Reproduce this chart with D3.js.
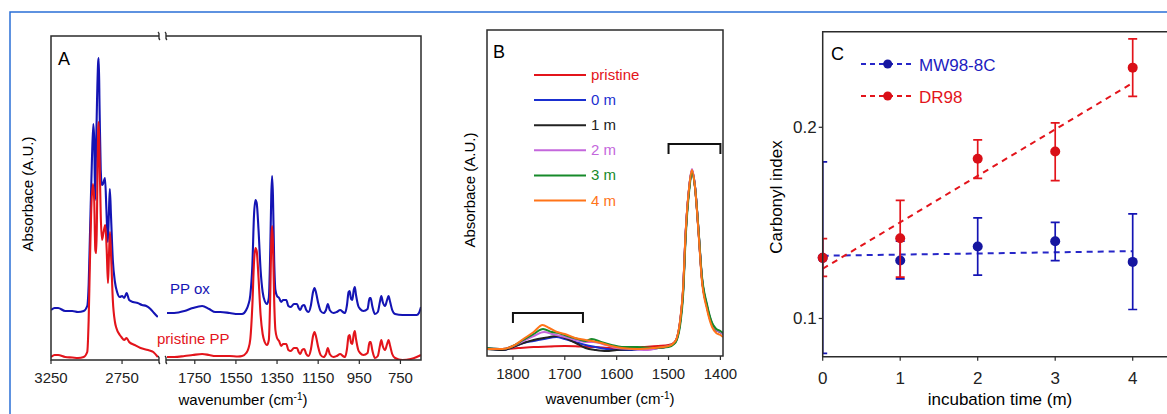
<html>
<head>
<title>PP FTIR spectra and carbonyl index</title>
<script src="https://d3js.org/d3.v7.min.js"></script>
<script>
// ---- panel A : [wavenumber, absorbance] ----
var ppOxHigh = [[3250,0.25],[3225,0.26],[3200,0.26],[3150,0.245],[3100,0.245],[3060,0.24],[3020,0.245],[2995,0.27],[2985,0.375],[2975,0.65],[2962,1.0],[2952,1.18],[2946,1.1],[2939,0.8],[2933,1.05],[2926,1.3],[2918,1.49],[2914,1.51],[2908,1.25],[2900,0.95],[2892,0.875],[2884,0.88],[2870,0.91],[2860,0.75],[2850,0.59],[2843,0.725],[2836,0.855],[2828,0.725],[2815,0.5],[2800,0.39],[2785,0.34],[2766,0.315],[2750,0.32],[2735,0.31],[2718,0.335],[2700,0.3],[2673,0.29],[2640,0.285],[2610,0.275],[2579,0.27],[2550,0.255],[2525,0.235],[2498,0.215]];
var pristineHigh = [[3250,0.015],[3225,0.025],[3200,0.025],[3150,0.015],[3100,0.0125],[3060,0.01],[3020,0.015],[2995,0.04],[2985,0.2],[2977,0.46],[2968,0.725],[2955,0.88],[2946,0.8],[2938,0.55],[2931,0.535],[2925,0.8],[2918,1.15],[2914,1.19],[2908,1.0],[2900,0.725],[2891,0.6],[2880,0.64],[2868,0.675],[2858,0.55],[2849,0.385],[2842,0.525],[2835,0.64],[2826,0.5],[2815,0.3],[2800,0.19],[2790,0.16],[2766,0.125],[2755,0.115],[2735,0.1],[2718,0.11],[2700,0.09],[2661,0.075],[2620,0.06],[2567,0.05],[2530,0.04],[2498,0.015]];
var ppOxLow = [[1888,0.235],[1850,0.235],[1800,0.245],[1760,0.26],[1714,0.27],[1680,0.255],[1650,0.24],[1626,0.24],[1580,0.235],[1540,0.23],[1520,0.23],[1500,0.25],[1490,0.275],[1480,0.325],[1470,0.475],[1462,0.725],[1455,0.8],[1449,0.785],[1440,0.65],[1430,0.45],[1420,0.34],[1410,0.295],[1399,0.28],[1390,0.31],[1383,0.55],[1378,0.825],[1374,0.92],[1370,0.825],[1364,0.5],[1358,0.35],[1350,0.32],[1340,0.31],[1330,0.29],[1320,0.3],[1305,0.3],[1295,0.27],[1283,0.265],[1268,0.28],[1253,0.28],[1245,0.26],[1237,0.25],[1228,0.27],[1218,0.275],[1208,0.25],[1197,0.24],[1185,0.275],[1175,0.34],[1168,0.36],[1160,0.335],[1150,0.285],[1138,0.245],[1124,0.235],[1112,0.25],[1103,0.28],[1094,0.25],[1076,0.235],[1060,0.24],[1043,0.25],[1030,0.24],[1019,0.235],[1010,0.275],[1002,0.34],[997,0.345],[990,0.305],[984,0.3],[977,0.35],[972,0.365],[966,0.325],[955,0.27],[946,0.255],[930,0.245],[910,0.255],[900,0.31],[895,0.31],[887,0.27],[874,0.23],[860,0.24],[850,0.29],[843,0.32],[836,0.29],[825,0.27],[815,0.3],[808,0.32],[800,0.29],[790,0.25],[776,0.23],[740,0.225],[700,0.225],[671,0.225],[660,0.235],[650,0.265]];
var pristineLow = [[1888,0.015],[1850,0.015],[1800,0.02],[1760,0.025],[1714,0.03],[1680,0.025],[1650,0.02],[1626,0.02],[1580,0.02],[1540,0.0175],[1520,0.02],[1500,0.035],[1490,0.055],[1480,0.105],[1470,0.275],[1462,0.49],[1455,0.56],[1449,0.545],[1440,0.41],[1430,0.225],[1420,0.13],[1410,0.09],[1399,0.075],[1390,0.1],[1383,0.325],[1378,0.6],[1374,0.67],[1370,0.59],[1364,0.3],[1358,0.15],[1350,0.11],[1340,0.095],[1330,0.07],[1320,0.08],[1305,0.08],[1295,0.05],[1283,0.045],[1268,0.06],[1253,0.06],[1245,0.04],[1237,0.03],[1228,0.05],[1218,0.055],[1208,0.03],[1197,0.02],[1185,0.055],[1175,0.12],[1168,0.14],[1160,0.115],[1150,0.065],[1138,0.025],[1124,0.015],[1112,0.03],[1103,0.06],[1094,0.03],[1076,0.015],[1060,0.02],[1043,0.03],[1030,0.02],[1019,0.015],[1010,0.055],[1002,0.12],[997,0.125],[990,0.085],[984,0.08],[977,0.13],[972,0.145],[966,0.105],[955,0.05],[946,0.035],[930,0.025],[910,0.035],[900,0.09],[895,0.09],[887,0.05],[874,0.01],[860,0.02],[850,0.07],[843,0.1],[836,0.07],[825,0.05],[815,0.08],[808,0.1],[800,0.07],[790,0.03],[776,0.01],[740,0],[700,0.005],[671,0.015],[660,0.02],[650,0.025]];
var ticksAHigh = [3250, 2750];
var ticksALow = [1750, 1550, 1350, 1150, 950, 750];

// ---- panel B : carbonyl region, one array per sample ----
var bPristine = [[1850,0.035],[1820,0.035],[1790,0.04],[1760,0.045],[1730,0.0475],[1700,0.05],[1670,0.0475],[1640,0.045],[1610,0.04],[1580,0.04],[1550,0.045],[1520,0.05],[1500,0.055],[1490,0.065],[1484,0.09],[1477,0.19],[1472,0.33],[1467,0.615],[1460,0.845],[1455,0.925],[1449,0.845],[1442,0.615],[1436,0.395],[1426,0.245],[1416,0.155],[1408,0.13],[1400,0.12],[1395,0.11]];
var b0m = [[1850,0.04],[1820,0.03],[1800,0.045],[1780,0.065],[1760,0.075],[1740,0.085],[1716,0.095],[1700,0.085],[1680,0.07],[1660,0.055],[1641,0.045],[1620,0.035],[1600,0.03],[1580,0.03],[1550,0.035],[1520,0.04],[1500,0.05],[1490,0.062],[1484,0.085],[1477,0.18],[1472,0.32],[1467,0.61],[1460,0.845],[1455,0.93],[1449,0.85],[1442,0.62],[1436,0.4],[1426,0.25],[1416,0.16],[1408,0.13],[1400,0.12],[1395,0.11]];
var b1m = [[1850,0.035],[1820,0.03],[1800,0.045],[1780,0.065],[1760,0.08],[1740,0.09],[1712,0.1],[1695,0.085],[1675,0.06],[1660,0.04],[1640,0.03],[1620,0.025],[1600,0.03],[1560,0.035],[1520,0.04],[1500,0.05],[1490,0.063],[1484,0.087],[1477,0.185],[1472,0.325],[1467,0.612],[1460,0.845],[1455,0.925],[1449,0.847],[1442,0.618],[1436,0.398],[1426,0.248],[1416,0.158],[1408,0.13],[1400,0.12],[1395,0.11]];
var b2m = [[1850,0.04],[1820,0.035],[1800,0.05],[1780,0.075],[1760,0.1],[1740,0.12],[1725,0.11],[1700,0.095],[1680,0.08],[1660,0.07],[1645,0.07],[1620,0.055],[1600,0.04],[1570,0.035],[1540,0.03],[1520,0.04],[1500,0.05],[1490,0.064],[1484,0.088],[1477,0.185],[1472,0.33],[1467,0.62],[1460,0.85],[1455,0.935],[1449,0.85],[1442,0.62],[1436,0.4],[1426,0.25],[1416,0.16],[1408,0.13],[1400,0.12],[1395,0.11]];
var b3m = [[1850,0.04],[1820,0.035],[1800,0.05],[1780,0.08],[1760,0.11],[1742,0.135],[1725,0.12],[1712,0.115],[1695,0.1],[1675,0.085],[1660,0.075],[1648,0.085],[1630,0.07],[1610,0.055],[1590,0.045],[1560,0.045],[1530,0.04],[1500,0.045],[1490,0.058],[1484,0.08],[1477,0.165],[1472,0.3],[1467,0.59],[1460,0.83],[1455,0.915],[1449,0.845],[1442,0.625],[1436,0.41],[1426,0.26],[1416,0.165],[1408,0.135],[1400,0.125],[1395,0.115]];
var b4m = [[1850,0.035],[1820,0.035],[1800,0.05],[1780,0.085],[1760,0.12],[1743,0.155],[1730,0.14],[1715,0.12],[1700,0.11],[1680,0.09],[1660,0.08],[1648,0.075],[1630,0.065],[1610,0.05],[1590,0.04],[1560,0.035],[1530,0.04],[1500,0.05],[1490,0.065],[1484,0.09],[1477,0.19],[1472,0.335],[1467,0.62],[1460,0.85],[1455,0.93],[1449,0.845],[1442,0.61],[1436,0.385],[1426,0.235],[1416,0.145],[1408,0.115],[1400,0.105],[1395,0.095]];
var legendB = ["pristine", "0 m", "1 m", "2 m", "3 m", "4 m"];
var bracketsB = [[1800, 1665, 0.215], [1500, 1400, 1.06]];
var ticksB = [1800, 1700, 1600, 1500, 1400];

// ---- panel C : carbonyl index vs incubation time ----
var months = [0, 1, 2, 3, 4];
var mw98 = [0.1317, 0.1303, 0.1376, 0.1404, 0.1296];
var mw98Lo = [0.0817, 0.1207, 0.1227, 0.1303, 0.1047];
var mw98Hi = [0.1819, 0.1404, 0.1526, 0.1503, 0.1547];
var dr98 = [0.1317, 0.142, 0.1835, 0.1873, 0.2312];
var dr98Lo = [0.122, 0.1216, 0.1733, 0.1721, 0.2162];
var dr98Hi = [0.1418, 0.1618, 0.1934, 0.2023, 0.2462];
var fitMw98 = [[0, 0.1328], [4, 0.1352]];
var fitDr98 = [[0, 0.126], [4, 0.2232]];
var ticksCx = [0, 1, 2, 3, 4];
var ticksCy = [0.1, 0.2];

document.addEventListener('DOMContentLoaded', function(){
    const svg = d3.select("#fig");
    const frameCol = "#2b2b2b";
    const RED = "#e3141b", BLUE = "#1414b4";

    // outer blue box
    svg.append("path").attr("d", "M10,420 V12 H1180")
        .attr("fill", "none").attr("stroke", "#2a6fd6").attr("stroke-width", 1.5);

    var defs = svg.append("defs");
    function clip(id, x0, y0, x1, y1) {
        defs.append("clipPath").attr("id", id).append("rect")
            .attr("x", x0).attr("y", y0).attr("width", x1 - x0).attr("height", y1 - y0);
        return "url(#" + id + ")";
    }

    // ================= A =================
    var aL = 51, aR = 421, aT = 36, aB = 360, brk1 = 159, brk2 = 166;
    var xAh = d3.scaleLinear().domain([3250, 2490]).range([aL, brk1]);
    var xAl = d3.scaleLinear().domain([1890, 650]).range([brk2, aR]);
    var yA = d3.scaleLinear().domain([0, 1.62]).range([aB, aT]);
    var gA = svg.append("g");
    var cH = clip("clipAh", aL, aT, brk1 - 1, aB);
    var cL = clip("clipAl", brk2 + 1, aT, aR, aB);
    [[ppOxHigh, xAh, cH, BLUE], [pristineHigh, xAh, cH, RED], [ppOxLow, xAl, cL, BLUE], [pristineLow, xAl, cL, RED]]
      .forEach(function (s) {
        var line = d3.line().x(d => s[1](d[0])).y(d => yA(d[1])).curve(d3.curveMonotoneX);
        gA.append("path").attr("d", line(s[0])).attr("clip-path", s[2])
            .attr("fill", "none").attr("stroke", s[3]).attr("stroke-width", 2.1);
      });
    // frame with broken top / bottom
    gA.append("path")
        .attr("d", "M" + brk1 + "," + aT + " H" + aL + " V" + aB + " H" + brk1 +
                   " M" + brk2 + "," + aT + " H" + aR + " V" + aB + " H" + brk2)
        .attr("fill", "none").attr("stroke", frameCol).attr("stroke-width", 1.5);
    [aT, aB].forEach(function (yy) {
        [brk1, brk2].forEach(function (xx) {
            gA.append("path")
                .attr("d", "M" + (xx - 1) + "," + (yy - 4) + " C" + (xx + 2) + "," + (yy - 2) + " " + (xx - 2) + "," + (yy + 2) + " " + (xx + 1) + "," + (yy + 4))
                .attr("fill", "none").attr("stroke", frameCol).attr("stroke-width", 1.4);
        });
    });
    var tickA = ticksAHigh.map(t => [t, xAh(t)]).concat(ticksALow.map(t => [t, xAl(t)]));
    tickA.forEach(function (t) {
        gA.append("line").attr("x1", t[1]).attr("x2", t[1]).attr("y1", aB).attr("y2", aB + 4)
            .attr("stroke", frameCol).attr("stroke-width", 1.2);
        gA.append("text").attr("x", t[1]).attr("y", 383).attr("text-anchor", "middle")
            .attr("class", "tk").text(t[0]);
    });
    var xl = gA.append("text").attr("x", 243).attr("y", 405).attr("text-anchor", "middle").attr("class", "lab");
    xl.append("tspan").text("wavenumber (cm");
    xl.append("tspan").attr("dy", -5).attr("font-size", 10).text("-1");
    xl.append("tspan").attr("dy", 5).text(")");
    gA.append("text").attr("transform", "translate(33,194) rotate(-90)").attr("text-anchor", "middle")
        .attr("class", "lab").text("Absorbace (A.U.)");
    gA.append("text").attr("x", 58).attr("y", 65).attr("font-size", 18).text("A");
    gA.append("text").attr("x", 170).attr("y", 294).attr("fill", BLUE).attr("class", "lab").text("PP ox");
    gA.append("text").attr("x", 157).attr("y", 344).attr("fill", RED).attr("class", "lab").text("pristine PP");

    // ================= B =================
    var bL = 487, bR = 723, bT = 30, bB = 356;
    var xB = d3.scaleLinear().domain([1850, 1395]).range([bL, bR]);
    var yB = d3.scaleLinear().domain([0, 1.63]).range([bB, bT]);
    var colorsB = ["#e3141b", "#1a2fd0", "#222222", "#c467dc", "#168a2a", "#ff7419"];
    var seriesB = [bPristine, b0m, b1m, b2m, b3m, b4m];
    var gB = svg.append("g");
    var cB = clip("clipB", bL, bT, bR, bB);
    var lineB = d3.line().x(d => xB(d[0])).y(d => yB(d[1])).curve(d3.curveMonotoneX);
    seriesB.forEach(function (s, i) {
        gB.append("path").attr("d", lineB(s)).attr("clip-path", cB)
            .attr("fill", "none").attr("stroke", colorsB[i]).attr("stroke-width", 2);
    });
    bracketsB.forEach(function (b) {
        var yy = yB(b[2]);
        gB.append("path")
            .attr("d", "M" + xB(b[0]) + "," + (yy + 10) + " V" + yy + " H" + xB(b[1]) + " V" + (yy + 10))
            .attr("fill", "none").attr("stroke", "#111").attr("stroke-width", 2);
    });
    gB.append("rect").attr("x", bL).attr("y", bT).attr("width", bR - bL).attr("height", bB - bT)
        .attr("fill", "none").attr("stroke", frameCol).attr("stroke-width", 1.5);
    ticksB.forEach(function (t) {
        gB.append("line").attr("x1", xB(t)).attr("x2", xB(t)).attr("y1", bB).attr("y2", bB + 4)
            .attr("stroke", frameCol).attr("stroke-width", 1.2);
        gB.append("text").attr("x", xB(t)).attr("y", 379).attr("text-anchor", "middle")
            .attr("class", "tk").text(t);
    });
    legendB.forEach(function (l, i) {
        var yy = 75 + i * 25.1;
        gB.append("line").attr("x1", 534).attr("x2", 586).attr("y1", yy).attr("y2", yy)
            .attr("stroke", colorsB[i]).attr("stroke-width", 2);
        gB.append("text").attr("x", 591).attr("y", yy + 5).attr("fill", colorsB[i])
            .attr("class", "lab").text(l);
    });
    var xlB = gB.append("text").attr("x", 610).attr("y", 404).attr("text-anchor", "middle").attr("class", "lab");
    xlB.append("tspan").text("wavenumber (cm");
    xlB.append("tspan").attr("dy", -5).attr("font-size", 10).text("-1");
    xlB.append("tspan").attr("dy", 5).text(")");
    gB.append("text").attr("transform", "translate(475,190) rotate(-90)").attr("text-anchor", "middle")
        .attr("class", "lab").text("Absorbace (A.U.)");
    gB.append("text").attr("x", 493).attr("y", 58).attr("font-size", 18).text("B");

    // ================= C =================
    var cLft = 822.7, cT = 31.7, cBt = 356.7;
    var xC = d3.scaleLinear().domain([0, 4.5]).range([cLft, cLft + 4.5 * 77.5]);
    var yC = d3.scaleLinear().domain([0.08, 0.25]).range([cBt, cT]);
    var gC = svg.append("g");
    var cC = clip("clipC", cLft, cT, 1167, cBt);
    var fitLine = d3.line().x(d => xC(d[0])).y(d => yC(d[1]));
    [[fitMw98, BLUE], [fitDr98, RED]].forEach(function (f) {
        gC.append("path").attr("d", fitLine(f[0])).attr("fill", "none")
            .attr("stroke", f[1] == BLUE ? "#2626c8" : RED).attr("stroke-width", 2)
            .attr("stroke-dasharray", "6,5");
    });
    [[mw98, mw98Lo, mw98Hi, BLUE, "#1616a0"], [dr98, dr98Lo, dr98Hi, RED, "#d90f17"]].forEach(function (s) {
        var g = gC.append("g").attr("clip-path", cC);
        months.forEach(function (m, i) {
            var xx = xC(m);
            g.append("path")
                .attr("d", "M" + (xx - 4.5) + "," + yC(s[2][i]) + " H" + (xx + 4.5) +
                           " M" + xx + "," + yC(s[2][i]) + " V" + yC(s[1][i]) +
                           " M" + (xx - 4.5) + "," + yC(s[1][i]) + " H" + (xx + 4.5))
                .attr("fill", "none").attr("stroke", s[3]).attr("stroke-width", 1.7);
        });
        gC.selectAll(null).data(months).enter().append("circle")
            .attr("cx", d => xC(d)).attr("cy", (d, i) => yC(s[0][i])).attr("r", 5)
            .attr("fill", s[4]);
    });
    gC.append("path").attr("d", "M1190," + cT + " H" + cLft + " V" + cBt + " H1190")
        .attr("fill", "none").attr("stroke", frameCol).attr("stroke-width", 1.5);
    ticksCx.forEach(function (t) {
        gC.append("line").attr("x1", xC(t)).attr("x2", xC(t)).attr("y1", cBt).attr("y2", cBt + 4)
            .attr("stroke", frameCol).attr("stroke-width", 1.2);
        gC.append("text").attr("x", xC(t)).attr("y", 384).attr("text-anchor", "middle")
            .attr("class", "tkc").text(t);
    });
    ticksCy.forEach(function (t) {
        gC.append("line").attr("x1", cLft - 4).attr("x2", cLft).attr("y1", yC(t)).attr("y2", yC(t))
            .attr("stroke", frameCol).attr("stroke-width", 1.2);
        gC.append("text").attr("x", cLft - 6).attr("y", yC(t) + 6).attr("text-anchor", "end")
            .attr("class", "tkc").text(t.toFixed(1));
    });
    gC.append("text").attr("x", 1000).attr("y", 405).attr("text-anchor", "middle")
        .attr("class", "labc").text("incubation time (m)");
    gC.append("text").attr("transform", "translate(782,197) rotate(-90)").attr("text-anchor", "middle")
        .attr("class", "labc").text("Carbonyl index");
    gC.append("text").attr("x", 831).attr("y", 60).attr("font-size", 18).text("C");
    [["MW98-8C", 64, "#2626c8", "#1616a0"], ["DR98", 96, RED, "#d90f17"]].forEach(function (l) {
        gC.append("line").attr("x1", 861).attr("x2", 914).attr("y1", l[1]).attr("y2", l[1])
            .attr("stroke", l[2]).attr("stroke-width", 2).attr("stroke-dasharray", "5,4");
        gC.append("circle").attr("cx", 887.7).attr("cy", l[1]).attr("r", 4.5).attr("fill", l[3]);
        gC.append("text").attr("x", 919).attr("y", l[1] + 6.5).attr("fill", l[2] == RED ? RED : "#1c1cc0")
            .attr("class", "labc").text(l[0]);
    });
});
</script>
<style>
    body { margin: 0; background: #fff; }
    svg { display: block; font-family: Arial, "Liberation Sans", sans-serif; }
    .tk { font-size: 15px; fill: #222; }
    .lab { font-size: 15px; }
    .tkc { font-size: 17px; fill: #222; }
    .labc { font-size: 17px; }
</style>
</head>
<body>
    <svg id="fig" width="1167" height="414"></svg>
</body>
</html>
